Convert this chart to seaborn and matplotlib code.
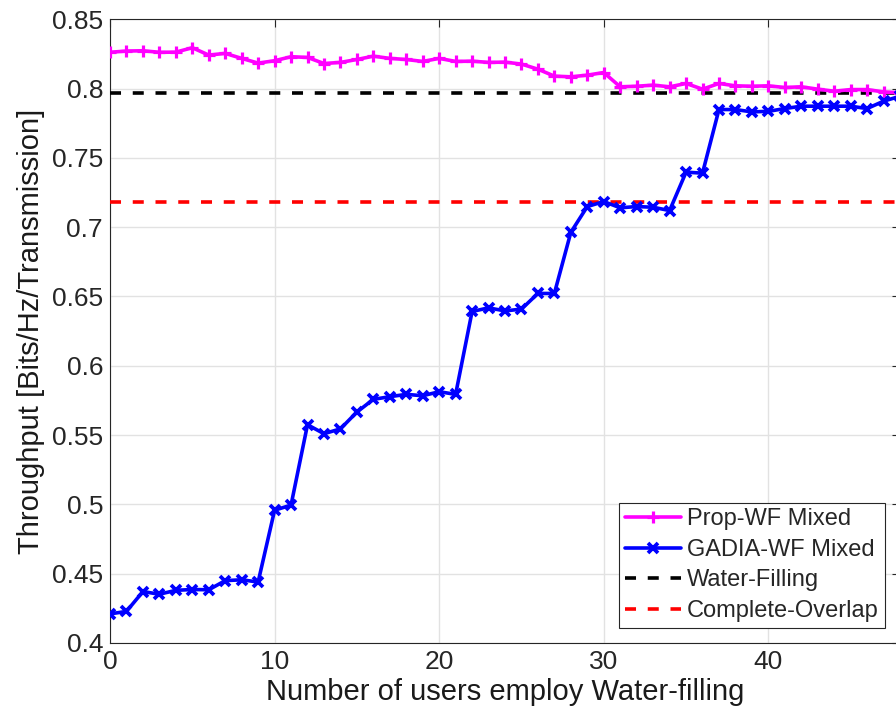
import numpy as np
import pandas as pd
import matplotlib
matplotlib.use("Agg")
import matplotlib.pyplot as plt
import seaborn as sns

# Number of users employing water-filling
users = list(range(0, 49))

# Proportional water-filling, mixed scenario
prop_wf = [0.8262, 0.8271, 0.8273, 0.8262, 0.8263, 0.8295, 0.8242, 0.8254, 0.8218, 0.8184,
           0.8201, 0.8230, 0.8225, 0.8181, 0.8189, 0.8210, 0.8234, 0.8218, 0.8210, 0.8196,
           0.8218, 0.8196, 0.8198, 0.8189, 0.8191, 0.8177, 0.8140, 0.8090, 0.8085, 0.8097,
           0.8116, 0.8013, 0.8017, 0.8025, 0.8013, 0.8037, 0.7996, 0.8037, 0.8020, 0.8017,
           0.8020, 0.8008, 0.8013, 0.7996, 0.7981, 0.7993, 0.7993, 0.7976, 0.7970]

# GADIA with water-filling, mixed scenario
gadia_wf = [0.4210, 0.4228, 0.4371, 0.4352, 0.4380, 0.4386, 0.4384, 0.4450, 0.4456, 0.4440,
            0.4958, 0.4995, 0.5575, 0.5510, 0.5545, 0.5666, 0.5758, 0.5777, 0.5794, 0.5784,
            0.5813, 0.5794, 0.6392, 0.6418, 0.6396, 0.6409, 0.6522, 0.6522, 0.6963, 0.7149,
            0.7185, 0.7140, 0.7149, 0.7144, 0.7120, 0.7397, 0.7390, 0.7849, 0.7849, 0.7832,
            0.7836, 0.7856, 0.7873, 0.7873, 0.7873, 0.7873, 0.7856, 0.7909, 0.7945]

# Reference levels
water_filling = 0.7965
complete_overlap = 0.7180

labels = ["Prop-WF Mixed", "GADIA-WF Mixed", "Water-Filling", "Complete-Overlap"]
x_ticks = [0, 10, 20, 30, 40]
y_ticks = [0.4, 0.45, 0.5, 0.55, 0.6, 0.65, 0.7, 0.75, 0.8, 0.85]
y_tick_labels = ["0.4", "0.45", "0.5", "0.55", "0.6", "0.65", "0.7", "0.75", "0.8", "0.85"]

sns.set_style("whitegrid")
plt.rcParams["font.family"] = ["Liberation Sans", "DejaVu Sans"]

df = pd.DataFrame({"users": users, "prop": prop_wf, "gadia": gadia_wf})

fig = plt.figure(figsize=(8.96, 7.27), dpi=100)
# the right edge of the box sits just past the canvas
ax = fig.add_axes([110 / 896, 84 / 727, 790 / 896, 623.7 / 727])

LW = 2.6
DASH = (3.05, 3.25)

sns.lineplot(data=df, x="users", y="prop", ax=ax, color="#ff00ff", lw=LW,
             marker="+", markersize=8.5, mew=2.3, mec="#ff00ff", label=labels[0], zorder=4)
sns.lineplot(data=df, x="users", y="gadia", ax=ax, color="#0000ff", lw=LW,
             marker="x", markersize=6.5, mew=2.7, mec="#0000ff", label=labels[1], zorder=4)
ax.axhline(water_filling, color="black", lw=LW, dashes=DASH, label=labels[2], zorder=3)
ax.axhline(complete_overlap, color="#ff0000", lw=LW, dashes=DASH, label=labels[3], zorder=3)

ax.set_xlim(0, 48)
ax.set_ylim(0.4, 0.85)
ax.set_xticks(x_ticks)
ax.set_yticks(y_ticks)
ax.set_yticklabels(y_tick_labels)

ax.grid(True, color="#e2e2e2", lw=1.0)
for side in ["left", "right", "top", "bottom"]:
    ax.spines[side].set_visible(True)
    ax.spines[side].set_color("#262626")
    ax.spines[side].set_linewidth(0.8)

ax.tick_params(direction="in", length=6, width=0.8, colors="#262626",
               top=True, right=True, labelsize=19, pad=5)

ax.set_xlabel("Number of users employ Water-filling", fontsize=21, color="#1a1a1a", labelpad=3)
ax.set_ylabel("Throughput [Bits/Hz/Transmission]", fontsize=21, color="#1a1a1a", labelpad=5)

leg = ax.legend(loc="lower right", fontsize=17, frameon=True, fancybox=False,
                edgecolor="#262626", framealpha=1, handlelength=2.4, handletextpad=0.25,
                borderpad=0.25, labelspacing=0.36, markerscale=1.0, borderaxespad=0.64)
leg.get_frame().set_linewidth(0.8)

fig.savefig("out.png", dpi=100)
